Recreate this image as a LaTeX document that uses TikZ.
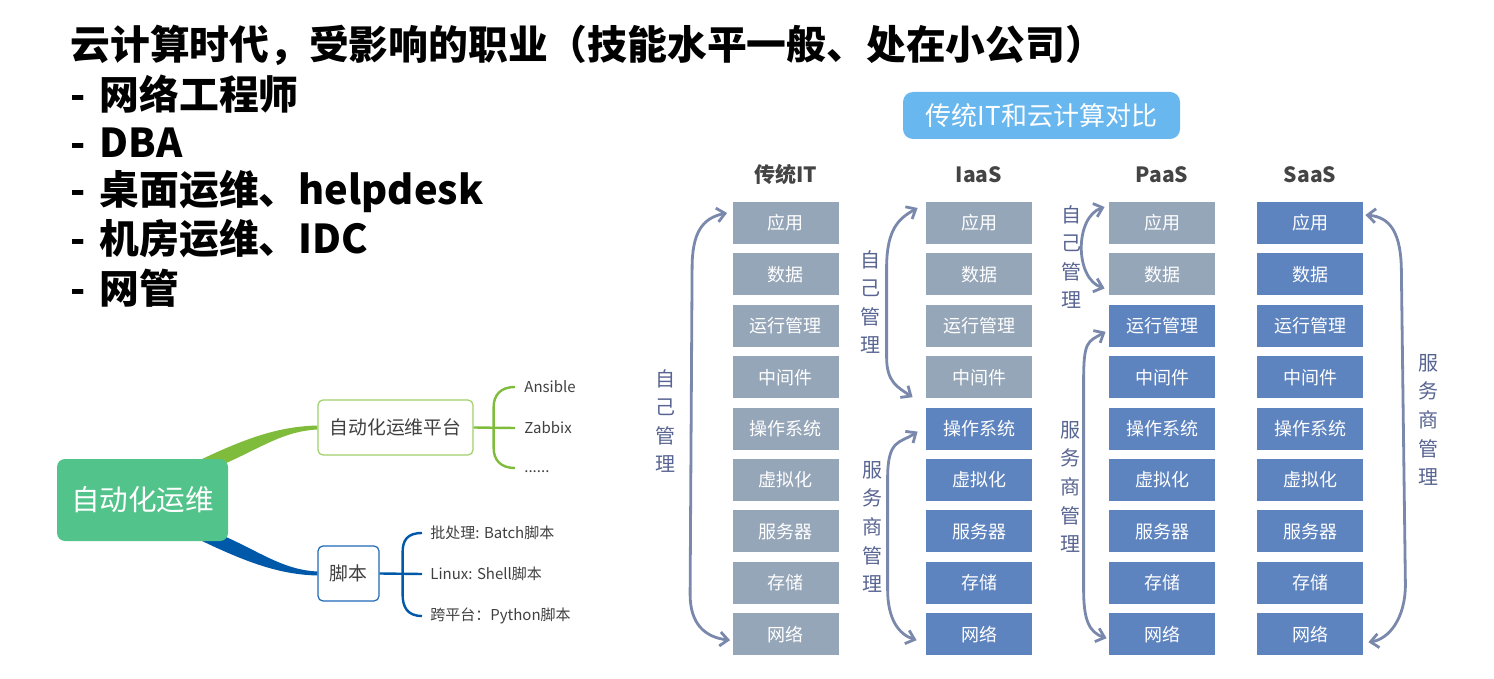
\documentclass[tikz,border=0pt]{standalone}
\usepackage{fontspec}
\setmainfont{Noto Sans CJK SC}
\usetikzlibrary{calc,arrows.meta,positioning,backgrounds}
\definecolor{ownGray}{RGB}{150,166,185}
\definecolor{provBlue}{RGB}{94,132,192}
\definecolor{arrowSlate}{RGB}{122,136,172}
\definecolor{sideText}{RGB}{88,100,145}
\definecolor{titleSky}{RGB}{104,183,238}
\definecolor{headGray}{RGB}{68,68,68}
\definecolor{hubGreen}{RGB}{82,195,139}
\definecolor{branchGreen}{RGB}{128,188,60}
\definecolor{frameGreen}{RGB}{160,208,105}
\definecolor{branchBlue}{RGB}{0,88,168}
\definecolor{frameBlue}{RGB}{30,104,184}
\definecolor{leafText}{RGB}{64,64,64}

\tikzset{
  stackbox/.style={minimum width=53pt,minimum height=21pt,inner sep=0pt,text=white,font=\fontsize{9}{10}\selectfont},
  colhead/.style={text=headGray,inner sep=0pt,font=\fontsize{10.5}{12}\selectfont\bfseries},
  sidenote/.style={text=sideText,align=center,inner sep=0pt,font=\fontsize{10}{14.3}\selectfont},
  mgmt/.style={draw=arrowSlate,line width=1.4pt,{Straight Barb[length=4pt,width=7pt]}-{Straight Barb[length=4pt,width=7pt]}},
  bullet/.style={anchor=west,inner sep=0pt,font=\fontsize{19.9}{24}\selectfont\bfseries},
  branch/.style={draw,rounded corners=2.5pt,line width=0.6pt,fill=white,minimum height=27.5pt,inner sep=0pt,text=leafText,font=\fontsize{9.4}{11}\selectfont},
  leaf/.style={anchor=west,inner sep=0pt,text=leafText,font=\fontsize{7.5}{9}\selectfont},
}

\begin{document}
\begin{tikzpicture}[x=0.5pt,y=-0.5pt]
\useasboundingbox (0,0) rectangle (1494,679);

% left text
\node[bullet] (title) at (70,45) {云计算时代，受影响的职业（技能水平一般、处在小公司）};
\node[bullet] (job1) at (70,94) {-\hspace{7pt}网络工程师};
\node[bullet] (job2) at (70,143) {-\hspace{7pt}DBA};
\node[bullet] (job3) at (70,191) {-\hspace{7pt}桌面运维、helpdesk};
\node[bullet] (job4) at (70,239) {-\hspace{7pt}机房运维、IDC};
\node[bullet] (job5) at (70,288) {-\hspace{7pt}网管};

% mind map
\node[rounded corners=4pt,fill=hubGreen,text=white,minimum width=85.5pt,minimum height=41pt,inner sep=0pt,font=\fontsize{14.3}{16}\selectfont] (hub) at (142.5,500) {自动化运维};
\node[branch,draw=frameGreen,minimum width=77.5pt] (platform) at (395.5,427.5) {自动化运维平台};
\node[branch,draw=frameBlue,minimum width=30.5pt] (script) at (348.5,573.5) {脚本};
\node[leaf] (ansible) at (524,387) {Ansible};
\node[leaf] (zabbix) at (524,428) {Zabbix};
\node[leaf] (etc) at (524,472) {......};
\node[leaf] (batch) at (430,533) {批处理: Batch脚本};
\node[leaf] (shell) at (430,574) {Linux: Shell脚本};
\node[leaf] (python) at (430,616) {跨平台：Python脚本};

\begin{scope}[on background layer]
\fill[branchGreen] ($(hub.north)+(40,10)$) .. controls ($(hub.north)+(100,-20)$) and ($(platform.west)+(-40,-1)$) .. ($(platform.west)+(0,-2)$) -- ($(platform.west)+(0,2)$) .. controls ($(platform.west)+(-40,4)$) and ($(hub.north)+(112,-5)$) .. ($(hub.north)+(58,15)$) -- cycle;
\fill[branchBlue] ($(hub.south)+(40,-10)$) .. controls ($(hub.south)+(100,20)$) and ($(script.west)+(-40,1)$) .. ($(script.west)+(0,2)$) -- ($(script.west)+(0,-2)$) .. controls ($(script.west)+(-40,-4)$) and ($(hub.south)+(112,5)$) .. ($(hub.south)+(58,-15)$) -- cycle;
\end{scope}

\coordinate (gfork) at ($(platform.east)+(20,0)$);
\coordinate (bfork) at ($(script.east)+(23,0)$);
\draw[branchGreen,line width=1.2pt] (platform.east) -- ([xshift=-4.5pt]zabbix.west);
\draw[branchGreen,line width=1.2pt] ([xshift=-4.5pt]ansible.west) .. controls +(-15,0) and +(0,-12) .. ($(gfork)+(0,-20)$) -- ($(gfork)+(0,20)$) .. controls +(0,12) and +(-15,0) .. ([xshift=-4.5pt,yshift=2pt]etc.west);
\draw[branchBlue,line width=1.2pt] (script.east) -- ([xshift=-4pt]shell.west);
\draw[branchBlue,line width=1.2pt] ([xshift=-4pt]batch.west) .. controls +(-15,0) and +(0,-12) .. ($(bfork)+(0,-21)$) -- ($(bfork)+(0,21)$) .. controls +(0,12) and +(-15,0) .. ([xshift=-4pt]python.west);

% comparison chart
\node[fill=titleSky,rounded corners=5pt,minimum width=138.5pt,minimum height=23.5pt,inner sep=0pt,text=white,font=\fontsize{13}{15}\selectfont] (compare) at (1041.5,115.5) {传统IT和云计算对比};

\foreach \col/\cx/\own/\head in {trad/785.5/9/传统IT,iaas/979/4/IaaS,paas/1162/2/PaaS,saas/1310/0/SaaS}{
  \node[colhead] (\col head) at (\cx,175) {\head};
  \foreach \lbl [count=\r] in {应用,数据,运行管理,中间件,操作系统,虚拟化,服务器,存储,网络}{
    \ifnum\r>\own \def\tone{provBlue}\else \def\tone{ownGray}\fi
    \node[stackbox,fill=\tone] (\col\r) at (\cx,{223+51.4*(\r-1)}) {\lbl};
  }
}

\draw[mgmt] ([shift={(-5,-10)}]trad1.west) .. controls +(-25,5) and +(0,-35) .. ([shift={(-40,45)}]trad1.west) -- ([shift={(-42,-40)}]trad9.west) .. controls +(0,30) and +(-25,-3) .. ([shift={(-2,6)}]trad9.west);
\draw[mgmt] ([shift={(-8,-15)}]iaas1.west) .. controls +(-18,10) and +(0,-40) .. ([shift={(-39,45)}]iaas1.west) -- ([shift={(-39,-20)}]iaas4.west) .. controls +(0,25) and +(-15,-10) .. ([shift={(-13,20)}]iaas4.west);
\draw[mgmt] ([shift={(-8,3)}]iaas5.west) .. controls +(-18,12) and +(0,-40) .. ([shift={(-38,50)}]iaas5.west) -- ([shift={(-38,-45)}]iaas9.west) .. controls +(0,30) and +(-18,-6) .. ([shift={(-9,6)}]iaas9.west);
\draw[mgmt] ([shift={(-4,-16)}]paas1.west) .. controls +(-30,10) and +(-30,-10) .. ([shift={(-4,14)}]paas2.west);
\draw[mgmt] ([shift={(-3,6)}]paas3.west) .. controls +(-18,10) and +(0,-40) .. ([shift={(-25,55)}]paas3.west) -- ([shift={(-25,-45)}]paas9.west) .. controls +(0,30) and +(-18,-6) .. ([shift={(-2,4)}]paas9.west);
\draw[mgmt] ([shift={(2,-8)}]saas1.east) .. controls +(25,2) and +(0,-40) .. ([shift={(38,50)}]saas1.east) -- ([shift={(42,-50)}]saas9.east) .. controls +(0,35) and +(20,-3) .. ([shift={(5,8)}]saas9.east);

\node[sidenote] (tradown) at (665,421) {自\\己\\管\\理};
\node[sidenote] (iaasown) at (870,302) {自\\己\\管\\理};
\node[sidenote] (iaasprov) at (872,527) {服\\务\\商\\管\\理};
\node[sidenote] (paasown) at (1071,257) {自\\己\\管\\理};
\node[sidenote] (paasprov) at (1070,487) {服\\务\\商\\管\\理};
\node[sidenote] (saasprov) at (1428,420) {服\\务\\商\\管\\理};
\end{tikzpicture}
\end{document}
